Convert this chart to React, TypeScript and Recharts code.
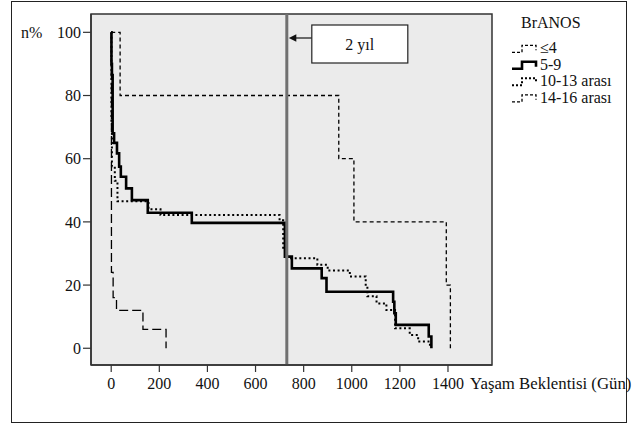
import React from 'react';
import { LineChart, Line, XAxis, YAxis, ReferenceLine, ReferenceArea, Legend } from 'recharts';

const FONT = "'Liberation Serif', 'Times New Roman', Tinos, 'Noto Serif', 'DejaVu Serif', Times, serif";

const xTicks = [0, 200, 400, 600, 800, 1000, 1200, 1400];
const yTicks = [0, 20, 40, 60, 80, 100];
const xDomain = [-84, 1583];
const yDomain = [-5.3, 105.8];

const legendTitle = 'BrANOS';
const xTitle = 'Yaşam Beklentisi (Gün)';
const yTitle = 'n%';
const markerDay = 730;
const markerText = '2 yıl';

const le4Days = [0, 37, 946, 1009, 1393, 1410];
const le4Surv = [100, 80, 60, 40, 20, 0];

const g59Days = [0, 1, 3, 6, 12, 24, 33, 40, 62, 86, 152, 335, 722, 751, 875, 895, 1172, 1177, 1183, 1320, 1331];
const g59Surv = [100, 90, 86.5, 68, 65, 61.7, 57.5, 54.3, 50.6, 46.9, 42.9, 39.7, 29, 25.3, 22.2, 17.9, 14.7, 11.1, 7.4, 3.7, 0];

const g1013Days = [0, 1, 3, 15, 26, 155, 205, 700, 715, 730, 857, 900, 992, 1058, 1065, 1103, 1144, 1180, 1241, 1276, 1325];
const g1013Surv = [100, 72, 57.5, 53, 46.5, 44, 42.2, 40.5, 31, 28.5, 26.4, 24.6, 22.7, 19.5, 16.5, 14.2, 12.1, 6.3, 4.2, 2.1, 0];

const g1416Days = [0, 1, 8, 22, 132, 228];
const g1416Surv = [100, 24, 16, 12, 6, 0];

const toPoints = (days: number[], surv: number[]) => days.map((d, i) => ({ day: d, surv: surv[i] }));

const series = [
  { name: '≤4', data: toPoints(le4Days, le4Surv), width: 1.3, dash: '4 3' },
  { name: '5-9', data: toPoints(g59Days, g59Surv), width: 2.6, dash: undefined as string | undefined },
  { name: '10-13 arası', data: toPoints(g1013Days, g1013Surv), width: 2, dash: '2 2.6' },
  { name: '14-16 arası', data: toPoints(g1416Days, g1416Surv), width: 1.3, dash: '9 4' },
];

const txt = { fontFamily: FONT, fontSize: 16 };

const LegendBox = () => (
  <svg width={130} height={110} style={{ display: 'block' }}>
    <text x={21} y={28} style={txt} fill="#111">{legendTitle}</text>
    {series.map((s, i) => {
      const b = 53.3 + i * 16.5;
      return (
        <g key={s.name}>
          <path
            d={`M12,${b - 1} H22 V${b - 8} H36 V${b - 3}`}
            fill="none"
            stroke="#000"
            strokeWidth={s.width}
            strokeDasharray={s.dash ? (s.width > 1.5 ? '2 2' : '3 2') : undefined}
          />
          <text x={40} y={b} style={txt} fill="#111">{s.name}</text>
        </g>
      );
    })}
  </svg>
);

const MarkerLabel = (props: any) => {
  const vb = props.viewBox || {};
  const x = vb.x;
  const top = vb.y;
  const ay = top + 24;
  return (
    <g>
      <line x1={x + 25} y1={ay} x2={x + 8} y2={ay} stroke="#111" strokeWidth={1.2} />
      <path d={`M${x + 2},${ay} L${x + 9.5},${ay - 3.8} L${x + 9.5},${ay + 3.8} Z`} fill="#111" />
      <rect x={x + 25} y={top + 11} width={96} height={38} fill="#fff" stroke="#222" strokeWidth={1.2} />
      <text x={x + 73} y={top + 35.5} textAnchor="middle" style={txt} fill="#111">{markerText}</text>
    </g>
  );
};

const YTitle = (props: any) => {
  const vb = props.viewBox || {};
  return (
    <text x={vb.x + 10} y={37.5} style={txt} fill="#111">{yTitle}</text>
  );
};

const XTitle = (props: any) => {
  const vb = props.viewBox || {};
  return (
    <text x={vb.x + vb.width - 22} y={389.3} style={{ fontFamily: FONT, fontSize: 16.8 }} fill="#111">{xTitle}</text>
  );
};

export default function App() {
  return (
    <div style={{ position: 'absolute', left: 0, top: 0, width: 634, height: 424, background: '#fff', fontFamily: FONT }}>
      <div style={{ position: 'absolute', left: 11, top: 1, width: 616, height: 422, border: '1.5px solid #222', boxSizing: 'border-box' }} />
      <div style={{ position: 'absolute', left: 0, top: 0 }}>
        <LineChart width={634} height={424} margin={{ top: 14, right: 142, bottom: 29, left: 11 }} style={{ fontFamily: FONT }}>
          <ReferenceArea
            x1={xDomain[0]}
            x2={xDomain[1]}
            y1={yDomain[0]}
            y2={yDomain[1]}
            fill="#ebebeb"
            fillOpacity={1}
            stroke="#333"
            strokeWidth={1.5}
            ifOverflow="visible"
          />
          <XAxis
            type="number"
            dataKey="day"
            domain={xDomain}
            ticks={xTicks}
            allowDataOverflow
            height={30}
            tickSize={7}
            tickMargin={6}
            interval={0}
            axisLine={{ stroke: '#333', strokeWidth: 1.5 }}
            tickLine={{ stroke: '#333', strokeWidth: 1.2 }}
            tick={{ style: txt, fill: '#111' }}
            label={<XTitle />}
          />
          <YAxis
            type="number"
            dataKey="surv"
            domain={yDomain}
            ticks={yTicks}
            allowDataOverflow
            width={80}
            tickSize={8}
            tickMargin={2}
            interval={0}
            axisLine={{ stroke: '#333', strokeWidth: 1.5 }}
            tickLine={{ stroke: '#333', strokeWidth: 1.2 }}
            tick={{ style: txt, fill: '#111' }}
            label={<YTitle />}
          />
          {series.map((s) => (
            <Line
              key={s.name}
              name={s.name}
              data={s.data}
              dataKey="surv"
              type="stepAfter"
              stroke="#000"
              strokeWidth={s.width}
              strokeDasharray={s.dash}
              dot={false}
              activeDot={false}
              isAnimationActive={false}
            />
          ))}
          <ReferenceLine x={markerDay} stroke="#707070" strokeWidth={3} ifOverflow="visible" label={<MarkerLabel />} />
          <Legend
            layout="horizontal"
            verticalAlign="middle"
            align="center"
            content={() => <LegendBox />}
            wrapperStyle={{ position: 'absolute', left: 500, top: 0, width: 130, height: 110 }}
          />
        </LineChart>
      </div>
    </div>
  );
}
